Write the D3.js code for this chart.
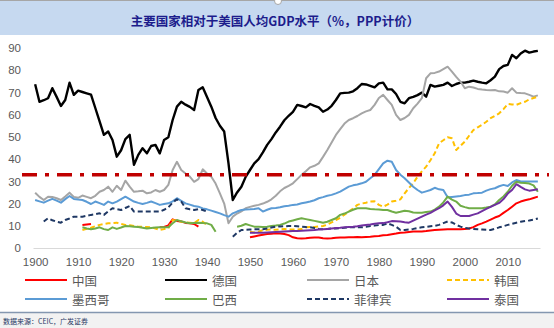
<!DOCTYPE html>
<html>
<head>
<meta charset="utf-8">
<script src="https://cdn.jsdelivr.net/npm/d3@7"></script>
<style>
  html, body { margin: 0; padding: 0; background: #fff; }
  svg { display: block; }
</style>
</head>
<body>
<div id="chart"></div>
<script>
// GDP per capita relative to the US (%, PPP), yearly, 1900-2017
var firstYear = 1900, lastYear = 2017;
var names = ["中国", "德国", "日本", "韩国", "墨西哥", "巴西", "菲律宾", "泰国"];
var yTicks = [0, 10, 20, 30, 40, 50, 60, 70, 80, 90];
var xTicks = [1900, 1910, 1920, 1930, 1940, 1950, 1960, 1970, 1980, 1990, 2000, 2010];
var refLevel = 33;

var N = null;

// each row is one decade
var china = [
  N, N, N, N, N, N, N, N, N, N,
  N, 10.4, 10.6, 10.8, N, N, N, N, N, N,
  N, N, N, N, N, N, N, N, N, 9.3,
  9.5, 10.2, 12.9, 12.2, 11.9, 11.3, 11.1, 10.8, 9.6, N,
  N, N, N, N, N, N, N, N, N, N,
  4.8, 5.2, 5.6, 6.0, 6.3, 6.4, 6.6, 6.5, 6.3, 5.8,
  4.8, 4.4, 4.3, 4.4, 4.6, 4.7, 4.7, 4.4, 4.3, 4.4,
  4.6, 4.7, 4.7, 4.8, 4.8, 4.9, 4.8, 5.0, 5.1, 5.3,
  5.4, 5.7, 5.9, 6.2, 6.5, 6.9, 7.0, 7.2, 7.4, 7.4,
  7.4, 7.6, 7.9, 8.1, 8.2, 8.3, 8.4, 8.4, 8.4, 8.4,
  8.6, 8.8, 9.4, 10.4, 11.1, 11.9, 12.8, 13.7, 14.4, 15.8,
  17.1, 18.6, 20.1, 20.9, 21.5, 21.9, 22.5, 23.1
];
var germany = [
  73.7, 65.8, 66.5, 67.4, 71.9, 68.0, 63.9, 66.6, 74.4, 68.9,
  70.8, 70.2, 69.6, 69.0, 63.0, 57.0, 50.9, 52.4, 48.6, 41.1,
  44.0, 49.0, 50.9, 37.4, 41.9, 44.9, 42.6, 45.9, 46.4, 42.6,
  48.6, 49.8, 57.6, 63.6, 65.8, 64.5, 63.5, 62.1, 71.1, 72.3,
  68.0, 63.6, 58.5, 55.0, 52.4, 38.1, 21.6, 25.0, 27.6, 32.0,
  35.1, 38.1, 40.0, 43.0, 46.4, 49.0, 52.0, 54.6, 57.5, 59.5,
  61.3, 64.4, 63.9, 63.3, 64.8, 64.0, 63.3, 61.3, 62.3, 64.0,
  66.6, 69.6, 69.8, 69.9, 70.5, 71.9, 73.8, 73.6, 73.0, 72.3,
  74.1, 74.4, 71.4, 71.4, 69.3, 65.8, 65.1, 67.4, 68.0, 68.8,
  69.9, 68.1, 73.4, 72.6, 73.0, 73.4, 74.4, 72.9, 73.8, 74.4,
  74.4, 74.8, 75.3, 74.8, 74.4, 74.1, 75.5, 77.1, 80.5, 81.9,
  82.4, 86.9, 85.4, 87.5, 88.8, 87.9, 88.4, 88.7
];
var japan = [
  24.9, 23.0, 21.6, 23.1, 23.0, 22.4, 21.6, 23.2, 24.9, 23.0,
  22.6, 23.6, 23.0, 22.4, 23.5, 25.3, 26.1, 27.6, 25.3, 28.0,
  26.1, 30.3, 27.6, 25.3, 25.5, 25.8, 24.6, 25.0, 26.1, 25.3,
  26.1, 28.4, 35.1, 38.8, 35.1, 33.5, 32.1, 29.8, 31.0, 35.4,
  33.5, 32.1, 29.0, 24.6, 20.0, 11.1, 14.1, 15.5, 16.5, 17.9,
  18.5, 19.0, 19.4, 20.0, 20.8, 21.9, 23.5, 25.5, 27.0, 28.0,
  29.1, 31.0, 32.9, 34.5, 36.3, 37.0, 38.1, 41.0, 44.1, 47.5,
  50.9, 53.5, 56.0, 57.6, 58.4, 59.4, 60.6, 61.5, 62.1, 64.4,
  67.5, 68.9, 66.6, 64.4, 59.9, 57.6, 58.5, 59.9, 62.9, 65.0,
  67.4, 76.4, 78.6, 78.8, 79.4, 80.5, 81.6, 79.4, 77.0, 74.9,
  71.9, 72.6, 72.2, 71.6, 71.3, 71.1, 71.0, 71.1, 70.5, 70.4,
  69.9, 71.9, 69.9, 69.7, 69.6, 68.9, 68.1, 68.7
];
var korea = [
  N, N, N, N, N, N, N, N, N, N,
  N, 8.1, 8.6, 9.1, 9.8, 10.4, 10.8, 11.1, 11.2, 11.4,
  10.8, 10.4, 10.2, 9.9, 9.6, 9.5, 9.4, 9.3, 8.8, 8.1,
  8.5, 8.8, 12.6, 12.2, 11.8, 11.6, 11.4, 11.2, 12.6, 11.8,
  10.4, N, N, N, N, N, N, N, N, N,
  7.3, 7.0, 7.3, 8.0, 8.2, 8.3, 8.2, 8.4, 8.5, 8.4,
  8.3, 8.3, 8.5, 9.3, 9.4, 9.4, 9.7, 9.9, 10.5, 11.5,
  12.6, 13.6, 15.0, 16.4, 17.8, 19.4, 20.0, 20.4, 20.9, 21.0,
  19.4, 18.6, 19.5, 20.9, 21.3, 21.9, 24.6, 27.0, 29.1, 32.1,
  34.5, 36.6, 39.5, 42.6, 47.1, 48.5, 49.8, 49.4, 44.1, 46.0,
  47.9, 50.5, 53.1, 54.3, 55.4, 56.8, 58.4, 59.5, 60.6, 62.5,
  64.8, 64.6, 64.4, 65.2, 65.8, 66.9, 67.5, 68.1
];
var mexico = [
  21.6, 21.0, 20.4, 21.3, 22.1, 21.3, 20.4, 22.0, 23.4, 22.1,
  21.8, 21.6, 20.8, 19.8, 20.9, 20.2, 19.4, 20.9, 20.1, 20.9,
  22.0, 23.1, 22.0, 20.9, 20.3, 19.8, 20.3, 20.9, 20.2, 19.4,
  19.8, 20.1, 21.0, 22.4, 21.2, 20.1, 19.5, 18.9, 18.6, 17.8,
  17.4, 16.8, 16.2, 15.6, 14.8, 14.1, 15.6, 16.4, 17.1, 17.3,
  17.4, 17.6, 17.9, 16.4, 17.2, 17.9, 18.0, 18.3, 18.8, 19.0,
  19.4, 19.6, 20.1, 20.5, 20.9, 21.5, 22.4, 22.9, 23.5, 23.9,
  24.6, 25.4, 26.5, 27.6, 28.2, 28.6, 29.1, 29.8, 31.4, 32.9,
  35.5, 38.1, 39.3, 38.8, 35.1, 33.0, 31.4, 29.5, 27.6, 26.1,
  24.9, 25.5, 26.1, 27.1, 26.4, 26.1, 22.8, 23.0, 23.2, 23.4,
  23.8, 24.0, 24.6, 24.7, 24.9, 25.8, 26.5, 26.9, 27.8, 28.4,
  27.9, 29.5, 30.6, 29.9, 29.9, 29.9, 29.9, 29.9
];
var brazil = [
  N, N, N, N, N, N, N, N, N, N,
  N, 9.3, 8.8, 8.4, 8.8, 9.3, 8.5, 8.1, 9.3, 8.6,
  9.2, 9.9, 9.8, 9.6, 9.4, 9.1, 8.8, 9.0, 9.2, 9.3,
  9.3, 9.3, 11.1, 12.6, 12.0, 11.5, 11.1, 11.3, 11.4, 11.2,
  11.1, 10.4, 7.3, N, N, N, N, 9.6, 10.0, 10.8,
  10.2, 9.6, 9.6, 9.5, 9.6, 9.9, 10.1, 10.4, 11.0, 11.9,
  12.4, 12.9, 13.4, 13.0, 12.6, 12.2, 11.8, 11.4, 11.8, 12.6,
  13.4, 14.9, 15.5, 16.4, 17.2, 17.9, 17.9, 17.9, 17.6, 17.4,
  17.3, 17.1, 17.1, 16.4, 15.9, 16.3, 16.8, 16.5, 16.0, 15.9,
  15.9, 16.2, 16.4, 17.3, 18.6, 20.5, 23.1, 21.8, 20.9, 19.0,
  18.4, 17.9, 17.9, 17.9, 17.9, 18.2, 18.6, 19.6, 21.6, 23.2,
  25.3, 28.0, 29.8, 29.4, 29.2, 29.0, 28.2, 25.3
];
var philippines = [
  N, N, 11.9, 13.4, 12.5, 11.8, 11.4, 12.6, 13.3, 14.1,
  14.1, 14.1, 14.5, 14.9, 15.2, 15.6, 14.9, 16.5, 17.9, 17.5,
  17.1, 18.0, 18.9, 16.4, 16.4, 16.4, 16.4, 16.4, 16.4, 16.4,
  17.2, 18.3, 20.5, 21.9, 20.9, 17.9, 17.4, 17.1, 17.5, 17.1,
  16.4, N, N, N, N, N, 5.1, 6.8, 8.1, 8.2,
  8.3, 8.4, 8.4, 8.4, 8.8, 9.2, 9.6, 9.7, 9.8, 9.9,
  9.9, 9.8, 9.6, 9.4, 9.3, 9.0, 8.6, 8.4, 8.6, 8.8,
  8.8, 9.0, 9.1, 9.3, 9.3, 9.3, 9.3, 9.5, 9.9, 10.1,
  10.3, 10.4, 11.1, 10.4, 9.6, 8.1, 8.1, 8.3, 8.6, 9.0,
  9.3, 9.5, 9.8, 10.0, 10.4, 11.2, 11.9, 11.5, 10.4, 9.6,
  9.0, 8.8, 8.6, 8.4, 8.3, 8.2, 8.1, 8.6, 9.3, 9.8,
  10.4, 10.9, 11.4, 11.8, 12.1, 12.4, 12.8, 13.3
];
// Thailand starts in 1950
var thailandStart = 1950;
var thailand = [
  6.9, 6.9, 6.9, 6.9, 7.0, 7.1, 7.2, 7.3, 7.4, 7.5,
  7.6, 7.7, 7.8, 7.9, 8.0, 8.1, 8.3, 8.4, 8.6, 8.8,
  9.0, 9.1, 9.3, 9.5, 9.6, 9.8, 10.1, 10.4, 10.6, 10.9,
  11.1, 11.2, 11.6, 12.1, 12.0, 11.9, 11.6, 11.4, 12.3, 13.2,
  14.1, 15.0, 15.8, 16.9, 17.9, 19.2, 20.9, 18.5, 15.5, 14.4,
  14.4, 14.4, 15.0, 15.6, 16.6, 17.6, 18.5, 19.4, 20.3, 22.0,
  24.5, 26.1, 28.7, 27.5, 26.4, 25.8, 26.1, 26.4
];

var colors = ["#ff0000", "#000000", "#a5a5a5", "#ffc000", "#5b9bd5", "#70ad47", "#1f3864", "#7030a0"];
var dashes = [null, null, null, "5,3", null, null, "5,3", null];
var widths = [2, 2.4, 2, 2, 2, 2, 2, 2];

var seriesList = [
  { vals: china, start: firstYear },
  { vals: germany, start: firstYear },
  { vals: japan, start: firstYear },
  { vals: korea, start: firstYear },
  { vals: mexico, start: firstYear },
  { vals: brazil, start: firstYear },
  { vals: philippines, start: firstYear },
  { vals: thailand, start: thailandStart }
];

var width = 554, height = 328;
var svg = d3.select("#chart").append("svg")
    .attr("width", width)
    .attr("height", height)
    .style("font-family", "'Noto Sans CJK SC', 'Liberation Sans', sans-serif");

// title banner
svg.append("rect")
    .attr("x", 0).attr("y", 0)
    .attr("width", width).attr("height", 35)
    .attr("fill", "#c6d9f0");
svg.append("line")
    .attr("x1", 0).attr("x2", width)
    .attr("y1", 0.5).attr("y2", 0.5)
    .attr("stroke", "#a6a6a6");
svg.append("circle")
    .attr("cx", 278).attr("cy", 1).attr("r", 3.5)
    .attr("fill", "#fff").attr("stroke", "#a6a6a6");
svg.append("text")
    .attr("x", 275).attr("y", 20)
    .attr("text-anchor", "middle")
    .attr("dominant-baseline", "central")
    .attr("font-size", 12.5)
    .attr("font-weight", "bold")
    .attr("fill", "#1c1c8c")
    .text("主要国家相对于美国人均GDP水平（%，PPP计价）");

var x = d3.scaleLinear()
    .domain([firstYear - 0.5, lastYear + 0.5])
    .range([33, 540]);
var y = d3.scaleLinear()
    .domain([0, 90])
    .range([248, 48]);

// x axis: category-style labels every ten years
var xAxis = svg.append("g")
    .attr("transform", "translate(0," + y(0) + ")")
    .call(d3.axisBottom(x).tickValues(xTicks).tickFormat(d3.format("d")).tickSize(0).tickPadding(10));
xAxis.select(".domain").attr("stroke", "#d9d9d9");
xAxis.selectAll("text")
    .attr("fill", "#595959")
    .attr("font-size", 11.5)
    .attr("font-family", "'Liberation Sans', Arial, sans-serif");

var yAxis = svg.append("g")
    .attr("transform", "translate(33,0)")
    .call(d3.axisLeft(y).tickValues(yTicks).tickSize(0).tickPadding(12));
yAxis.select(".domain").remove();
yAxis.selectAll("text")
    .attr("fill", "#595959")
    .attr("font-size", 11.5)
    .attr("font-family", "'Liberation Sans', Arial, sans-serif");

var line = d3.line()
    .defined(function(d) { return d[1] != null; })
    .x(function(d) { return x(d[0]); })
    .y(function(d) { return y(d[1]); });

seriesList.forEach(function(s, i) {
    var pts = s.vals.map(function(v, k) { return [s.start + k, v]; });
    svg.append("path")
        .datum(pts)
        .attr("d", line)
        .attr("fill", "none")
        .attr("stroke", colors[i])
        .attr("stroke-width", widths[i])
        .attr("stroke-dasharray", dashes[i])
        .attr("stroke-linejoin", "round");
});

// 33% reference line
svg.append("line")
    .attr("x1", 22).attr("x2", 549)
    .attr("y1", y(refLevel)).attr("y2", y(refLevel))
    .attr("stroke", "#c00000")
    .attr("stroke-width", 3.5)
    .attr("stroke-dasharray", "15,8,4,8");

// legend, two rows of four
var legendX = [25, 165, 307, 447];
var legendY = [280, 299];
var legend = svg.selectAll("g.legend")
    .data(names)
    .enter().append("g")
    .attr("class", "legend")
    .attr("transform", function(d, i) {
        return "translate(" + legendX[i % 4] + "," + legendY[Math.floor(i / 4)] + ")";
    });
legend.append("line")
    .attr("x1", 0).attr("x2", 42)
    .attr("y1", 0).attr("y2", 0)
    .attr("stroke", function(d, i) { return colors[i]; })
    .attr("stroke-width", 2)
    .attr("stroke-dasharray", function(d, i) { return dashes[i]; });
legend.append("text")
    .attr("x", 47).attr("y", 0)
    .attr("dominant-baseline", "central")
    .attr("font-size", 12.5)
    .attr("fill", "#595959")
    .text(function(d) { return d; });

// source footer
svg.append("rect")
    .attr("x", 0).attr("y", 312)
    .attr("width", width).attr("height", height - 312)
    .attr("fill", "#f2f2f2");
svg.append("line")
    .attr("x1", 0).attr("x2", width)
    .attr("y1", 312.5).attr("y2", 312.5)
    .attr("stroke", "#8497b0")
    .attr("stroke-width", 1.5);
svg.append("text")
    .attr("x", 3).attr("y", 321)
    .attr("dominant-baseline", "central")
    .attr("font-size", 7)
    .attr("fill", "#1f3864")
    .text("数据来源：CEIC，广发证券");
</script>
</body>
</html>
